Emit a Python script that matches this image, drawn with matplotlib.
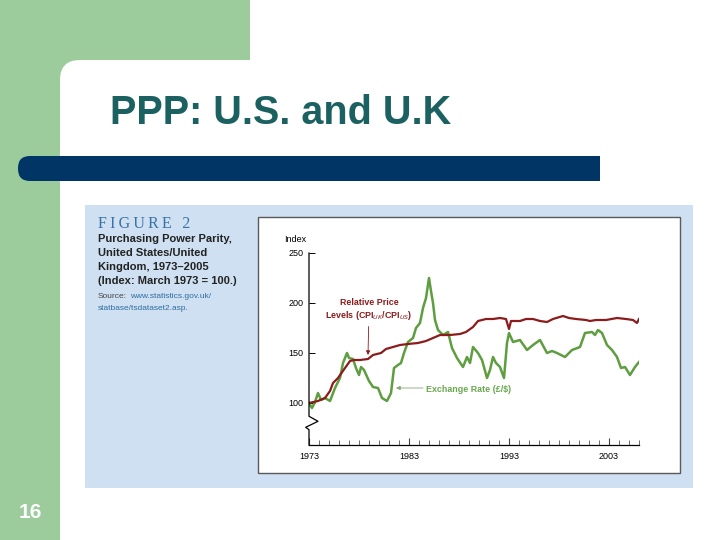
import matplotlib
matplotlib.use("Agg")
import matplotlib.pyplot as plt
from matplotlib.patches import Rectangle, FancyBboxPatch

plt.rcParams['font.family'] = ['Liberation Sans', 'DejaVu Sans']
plt.rcParams['mathtext.fontset'] = 'custom'
plt.rcParams['mathtext.bf'] = 'Liberation Sans:bold'
plt.rcParams['mathtext.rm'] = 'Liberation Sans:bold'

# Exchange rate (pound/dollar), index March 1973 = 100
fx_years = [1973.0, 1973.3, 1973.6, 1973.9, 1974.2, 1974.6, 1975.1, 1975.6, 1976.1, 1976.4,
            1976.8, 1977.0, 1977.4, 1977.7, 1978.0, 1978.2, 1978.5, 1979.0, 1979.4, 1979.9,
            1980.3, 1980.8, 1981.2, 1981.5, 1981.9, 1982.2, 1982.5, 1982.9, 1983.4, 1983.7,
            1984.1, 1984.4, 1984.7, 1985.0, 1985.2, 1985.4, 1985.6, 1985.9, 1986.4, 1986.9,
            1987.3, 1987.8, 1988.4, 1988.8, 1989.1, 1989.4, 1989.9, 1990.3, 1990.8, 1991.1,
            1991.4, 1991.7, 1992.1, 1992.5, 1992.8, 1993.0, 1993.4, 1994.1, 1994.8, 1995.4,
            1996.1, 1996.8, 1997.3, 1997.8, 1998.6, 1999.3, 2000.1, 2000.6, 2001.3, 2001.6,
            2001.9, 2002.3, 2002.8, 2003.3, 2003.8, 2004.2, 2004.6, 2005.1, 2005.6, 2006.0]
fx_values = [100, 95, 101, 110, 103, 105, 102, 115, 125, 140,
             150, 145, 144, 135, 128, 136, 133, 122, 116, 115,
             105, 102, 110, 135, 138, 140, 150, 161, 165, 175,
             180, 195, 205, 225, 212, 200, 183, 173, 168, 171,
             155, 145, 136, 146, 140, 156, 150, 143, 125, 133,
             146, 140, 136, 125, 160, 170, 161, 163, 153, 158,
             163, 150, 152, 150, 146, 153, 156, 170, 171, 168,
             173, 170, 158, 153, 146, 135, 136, 128, 136, 141]

# Relative price levels CPI_UK / CPI_US
cpi_years = [1973.0, 1973.9, 1974.6, 1975.1, 1975.4, 1975.9, 1976.6, 1977.1, 1977.5, 1978.1,
             1978.9, 1979.4, 1980.2, 1980.7, 1981.4, 1982.1, 1982.9, 1983.9, 1984.7, 1985.4,
             1986.1, 1987.1, 1988.1, 1988.7, 1989.4, 1989.9, 1990.7, 1991.4, 1992.1, 1992.7,
             1993.0, 1993.2, 1994.1, 1994.7, 1995.4, 1996.1, 1996.8, 1997.4, 1998.4, 1999.0,
             1999.7, 2000.7, 2001.1, 2001.7, 2002.7, 2003.8, 2004.7, 2005.4, 2005.8, 2006.0]
cpi_values = [100, 102, 105, 112, 120, 125, 135, 142, 143, 143,
              144, 148, 150, 154, 156, 158, 159, 160, 162, 165,
              168, 168, 169, 171, 176, 182, 184, 184, 185, 184,
              174, 182, 182, 184, 184, 182, 181, 184, 187, 185,
              184, 183, 182, 183, 183, 185, 184, 183, 180, 184]

year_labels = [1973, 1983, 1993, 2003]
index_ticks = [100, 150, 200, 250]

green_line = '#5e9e40'
red_line = '#8c1c1c'

fig = plt.figure(figsize=(7.2, 5.4), dpi=100)

# slide background drawn in pixel coordinates
bg = fig.add_axes([0, 0, 1, 1])
bg.set_xlim(0, 720)
bg.set_ylim(540, 0)
bg.axis('off')
slide_green = '#9dcc9c'
bg.add_patch(Rectangle((0, 0), 250, 60, fc=slide_green, ec='none'))
bg.add_patch(Rectangle((0, 0), 60, 540, fc=slide_green, ec='none'))
bg.add_patch(Rectangle((60, 60), 30, 30, fc=slide_green, ec='none'))
bg.add_patch(FancyBboxPatch((60, 60), 700, 520, boxstyle="round,pad=0,rounding_size=20",
                            fc='white', ec='none'))
bg.add_patch(FancyBboxPatch((18, 156), 100, 25, boxstyle="round,pad=0,rounding_size=12",
                            fc='#003565', ec='none'))
bg.add_patch(Rectangle((60, 156), 540, 25, fc='#003565', ec='none'))
bg.text(110, 113, "PPP: U.S. and U.K", fontsize=28.5, fontweight='bold', color='#1c6161',
        va='center', ha='left')
bg.text(30, 512, "16", fontsize=15, fontweight='bold', color='white', va='center', ha='center')

# chart panel
bg.add_patch(Rectangle((85, 205), 608, 283, fc='#cee0f1', ec='none'))
bg.add_patch(Rectangle((258, 217), 422, 256, fc='white', ec='#5a5a5a', lw=1))
bg.text(98, 224, "\u2009".join("FIGURE") + "\u2009\u2009 2",
        family=['Liberation Serif', 'DejaVu Serif'], fontsize=11.5,
        color='#3a72a6', va='center', ha='left')
caption = ["Purchasing Power Parity,", "United States/United",
           "Kingdom, 1973\u20132005", "(Index: March 1973 = 100.)"]
for i, line in enumerate(caption):
    bg.text(98, 239 + 14 * i, line, fontsize=8.0, fontweight='bold', color='#222222',
            va='center', ha='left')
src = bg.text(98, 297, "Source:", fontsize=6.0, color='#444444', va='center', ha='left')
bg.annotate("www.statistics.gov.uk/", xy=(1, 0.5), xycoords=src, xytext=(2, 0),
            textcoords='offset points', fontsize=6.0, color='#2f6c9f', va='center', ha='left')
bg.text(98, 309, "statbase/tsdataset2.asp.", fontsize=6.0, color='#2f6c9f', va='center', ha='left')
bg.text(284, 239, "Index", fontsize=6.5, color='black', va='center', ha='left')

# the plot
ax = fig.add_axes([309 / 720, 95 / 540, 330 / 720, 192 / 540])
ax.patch.set_visible(False)
ax.plot(cpi_years, cpi_values, color=red_line, lw=1.6, zorder=3)
ax.plot(fx_years, fx_values, color=green_line, lw=1.8, zorder=2)
ax.set_xlim(1973, 2006)
ax.set_ylim(58, 250)
for s in ['top', 'right', 'left']:
    ax.spines[s].set_visible(False)
ax.spines['bottom'].set_linewidth(0.9)

# broken y axis
brk_x = [1973, 1973, 1973.9, 1972.67, 1973, 1973]
brk_y = [250, 86.7, 81.7, 75.7, 73.3, 58]
ax.plot(brk_x, brk_y, color='black', lw=0.9, clip_on=False, zorder=4)

ax.set_xticks(year_labels)
ax.set_xticks(range(1973, 2007), minor=True)
ax.set_yticks(index_ticks)
ax.tick_params(axis='x', which='major', direction='in', length=5, width=0.8, color='#444444',
               labelsize=6.5, pad=5)
ax.tick_params(axis='x', which='minor', direction='in', length=3.5, width=0.6, color='#555555')
ax.tick_params(axis='y', direction='in', length=4, width=0.7, labelsize=6.5, pad=4)

ax.annotate("Relative Price\nLevels (CPI$_{UK}$/CPI$_{US}$)", xy=(1978.9, 148), xytext=(1979.0, 193),
            ha='center', va='center', fontsize=6.4, fontweight='bold', color=red_line,
            linespacing=1.3,
            arrowprops=dict(arrowstyle='-|>', color=red_line, lw=0.6, mutation_scale=6,
                            shrinkA=1, shrinkB=0))
ax.annotate("", xy=(1981.7, 115), xytext=(1984.4, 115),
            arrowprops=dict(arrowstyle='-|>', color='#8aa37a', lw=0.6, mutation_scale=6,
                            shrinkA=0, shrinkB=0))
ax.text(1984.7, 113, "Exchange Rate (\u00a3/\\$)", fontsize=6.4, fontweight='bold',
        color='#6aa84f', va='center', ha='left')

fig.savefig("out.png", dpi=100)
